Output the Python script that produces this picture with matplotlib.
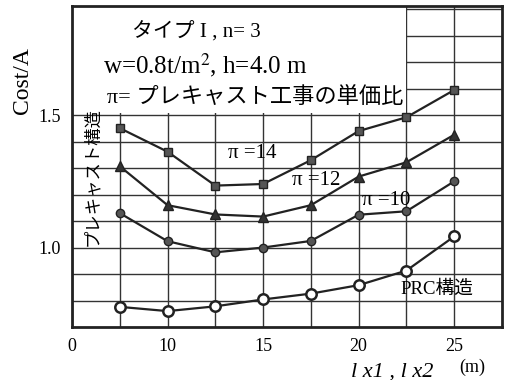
import matplotlib
matplotlib.use('Agg')
import matplotlib.pyplot as plt
from matplotlib.patches import Rectangle

plt.rcParams['font.family'] = ['Liberation Serif', 'Noto Sans CJK JP']
plt.rcParams['mathtext.fontset'] = 'stix'

# データ
spans = [7.5, 10, 12.5, 15, 17.5, 20, 22.5, 25]
pi14 = [1.451, 1.362, 1.234, 1.240, 1.330, 1.440, 1.492, 1.595]
pi12 = [1.307, 1.160, 1.125, 1.117, 1.160, 1.268, 1.322, 1.426]
pi10 = [1.130, 1.024, 0.982, 1.000, 1.025, 1.124, 1.137, 1.250]
prc = [0.776, 0.760, 0.778, 0.804, 0.826, 0.858, 0.913, 1.042]

xticks = [5, 10, 15, 20, 25]
xtick_labels = ['0', '10', '15', '20', '25']
yticks = [1.0, 1.5]
ytick_labels = ['1.0', '1.5']

fig = plt.figure(figsize=(5.05, 3.8), dpi=100)
ax = fig.add_axes([0.1426, 0.1395, 0.8514, 0.8445])

# グリッド
ax.set_xlim(5, 27.5)
ax.set_ylim(0.7, 1.912)
ax.set_xticks(xticks)
ax.set_xticklabels(xtick_labels, fontsize=13)
ax.set_yticks(yticks)
ax.set_yticklabels(ytick_labels, fontsize=13)
ax.set_xticks([7.5, 12.5, 17.5, 22.5], minor=True)
ax.set_yticks([0.8, 0.9, 1.1, 1.2, 1.3, 1.4, 1.6, 1.7, 1.8, 1.9], minor=True)
ax.grid(True, which='both', color='#333333', linewidth=1.0)
ax.set_axisbelow(True)
ax.tick_params(which='both', length=0, pad=8)
for s in ax.spines.values():
    s.set_linewidth(2.0)
    s.set_color('#222222')

# 説明文の白い箱
ax.add_patch(Rectangle((5, 1.51), 17.5, 0.5, facecolor='white', edgecolor='none', zorder=1))

ax.plot(spans, pi14, 's-', color='#222222', lw=1.6, ms=6, mfc='#555555', mec='#222222', zorder=3)
ax.plot(spans, pi12, '^-', color='#222222', lw=1.6, ms=6.5, mfc='#333333', mec='#222222', zorder=3)
ax.plot(spans, pi10, 'o-', color='#222222', lw=1.6, ms=6, mfc='#555555', mec='#222222', zorder=3)
ax.plot(spans, prc, 'o-', color='#222222', lw=1.6, ms=7.5, mfc='white', mec='#222222', mew=1.8, zorder=3)

ax.text(11.5, 1.816, 'タイプ I , n= 3', fontsize=15, ha='center', va='center', zorder=4)
ax.text(11.96, 1.69, 'w=0.8t/m$^2$, h=4.0 m', fontsize=18, ha='center', va='center', zorder=4)
ax.text(6.85, 1.568, 'π= プレキャスト工事の単価比', fontsize=16, ha='left', va='center', zorder=4)

ax.text(13.15, 1.356, 'π =14', fontsize=15, ha='left', va='center', zorder=4)
ax.text(16.5, 1.253, 'π =12', fontsize=15, ha='left', va='center', zorder=4)
ax.text(20.2, 1.177, 'π =10', fontsize=15, ha='left', va='center', zorder=4)
ax.text(22.2, 0.845, 'PRC構造', fontsize=13.5, ha='left', va='center', zorder=4)
ax.text(6.1, 1.27, 'プレキャスト構造', fontsize=12.5, rotation=90, ha='center', va='center', zorder=4)

fig.text(0.044, 0.787, 'Cost/A', fontsize=17, rotation=90, ha='center', va='center')
fig.text(0.777, 0.022, 'l x1 , l x2', fontsize=16, style='italic', ha='center', va='center')
fig.text(0.935, 0.032, '(m)', fontsize=13, ha='center', va='center')

plt.savefig('out.png', dpi=100)
